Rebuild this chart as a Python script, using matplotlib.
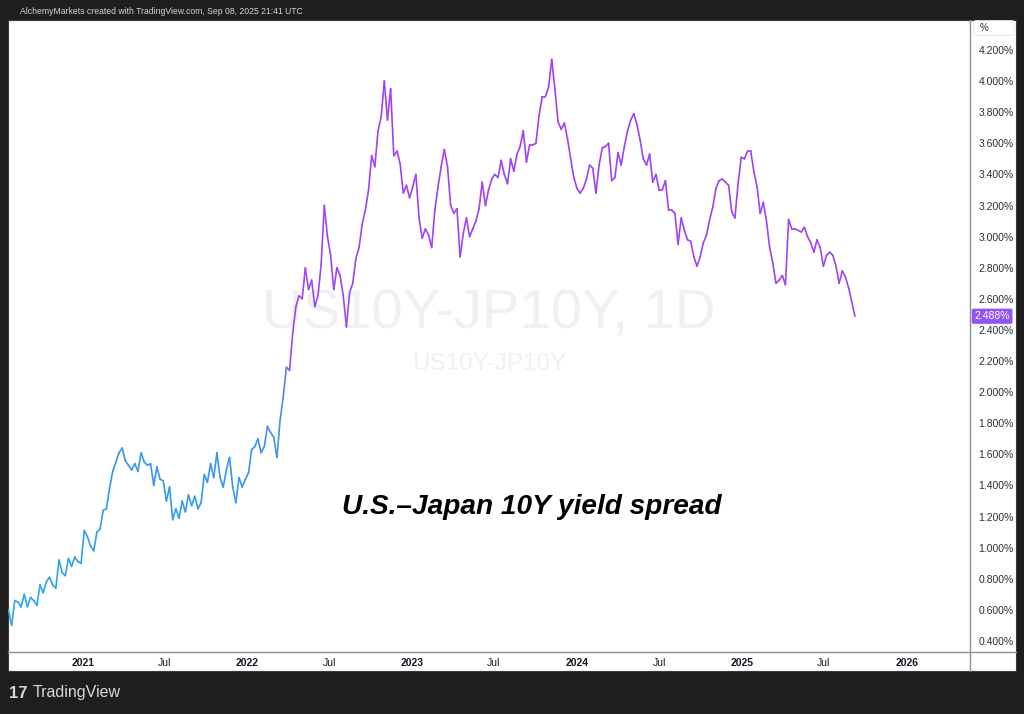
import numpy as np
import pandas as pd
import matplotlib
matplotlib.use("Agg")
import matplotlib.pyplot as plt
import matplotlib.dates as mdates
from matplotlib.collections import LineCollection
from matplotlib.colors import LinearSegmentedColormap, Normalize
from matplotlib.patches import Rectangle, FancyBboxPatch
from matplotlib.lines import Line2D
from matplotlib.transforms import blended_transform_factory

plt.rcParams['font.family'] = ['Liberation Sans', 'DejaVu Sans']

# weekly US10Y - JP10Y spread (%)
spread = [
    0.60, 0.50, 0.66, 0.65, 0.62, 0.70, 0.62, 0.68, 0.66, 0.63,
    0.76, 0.71, 0.78, 0.81, 0.76, 0.74, 0.92, 0.84, 0.82, 0.93,
    0.88, 0.94, 0.91, 0.90, 1.11, 1.07, 1.01, 0.98, 1.10, 1.12,
    1.24, 1.25, 1.38, 1.49, 1.55, 1.61, 1.64, 1.56, 1.53, 1.50,
    1.54, 1.49, 1.61, 1.55, 1.53, 1.54, 1.40, 1.52, 1.44, 1.43,
    1.30, 1.39, 1.18, 1.25, 1.19, 1.30, 1.23, 1.34, 1.27, 1.33,
    1.25, 1.29, 1.47, 1.42, 1.54, 1.45, 1.61, 1.45, 1.39, 1.50,
    1.58, 1.39, 1.29, 1.45, 1.39, 1.44, 1.48, 1.63, 1.65, 1.70,
    1.61, 1.65, 1.78, 1.74, 1.71, 1.58, 1.82, 1.97, 2.16, 2.14,
    2.38, 2.55, 2.62, 2.60, 2.80, 2.66, 2.72, 2.55, 2.62, 2.82,
    3.20, 3.00, 2.88, 2.66, 2.80, 2.75, 2.62, 2.42, 2.64, 2.70,
    2.86, 2.93, 3.08, 3.17, 3.30, 3.52, 3.45, 3.68, 3.77, 4.00,
    3.75, 3.95, 3.52, 3.55, 3.47, 3.28, 3.33, 3.25, 3.32, 3.40,
    3.12, 2.99, 3.05, 3.01, 2.93, 3.17, 3.32, 3.45, 3.56, 3.45,
    3.20, 3.15, 3.18, 2.87, 3.02, 3.12, 3.00, 3.05, 3.10, 3.18,
    3.35, 3.20, 3.30, 3.37, 3.40, 3.38, 3.49, 3.40, 3.34, 3.50,
    3.42, 3.53, 3.58, 3.68, 3.48, 3.59, 3.59, 3.60, 3.78, 3.90,
    3.90, 3.96, 4.14, 3.95, 3.74, 3.69, 3.73, 3.63, 3.50, 3.38,
    3.31, 3.28, 3.31, 3.37, 3.46, 3.44, 3.28, 3.46, 3.57, 3.58,
    3.60, 3.36, 3.38, 3.54, 3.46, 3.58, 3.68, 3.75, 3.79, 3.72,
    3.62, 3.50, 3.46, 3.53, 3.35, 3.40, 3.30, 3.30, 3.36, 3.17,
    3.17, 3.15, 2.95, 3.12, 3.04, 2.98, 2.97, 2.87, 2.81, 2.87,
    2.96, 3.01, 3.11, 3.19, 3.31, 3.36, 3.37, 3.35, 3.33, 3.16,
    3.12, 3.34, 3.51, 3.50, 3.55, 3.55, 3.42, 3.32, 3.15, 3.22,
    3.10, 2.93, 2.83, 2.70, 2.72, 2.75, 2.69, 3.11, 3.05, 3.05,
    3.04, 3.03, 3.06, 3.00, 2.96, 2.90, 2.98, 2.93, 2.81, 2.88,
    2.90, 2.88, 2.81, 2.70, 2.78, 2.74, 2.67, 2.58, 2.488,
]
dates = pd.date_range(end="2025-09-08", periods=len(spread), freq="7D")

yticks = [0.4, 0.6, 0.8, 1.0, 1.2, 1.4, 1.6, 1.8, 2.0, 2.2, 2.4, 2.6,
          2.8, 3.0, 3.2, 3.4, 3.6, 3.8, 4.0, 4.2]
xtick_dates = ["2021-01-01", "2021-07-01", "2022-01-01", "2022-07-01",
               "2023-01-01", "2023-07-01", "2024-01-01", "2024-07-01",
               "2025-01-01", "2025-07-01", "2026-01-01"]
xtick_labels = ["2021", "Jul", "2022", "Jul", "2023", "Jul", "2024", "Jul",
                "2025", "Jul", "2026"]

W, H = 1024, 714
fig = plt.figure(figsize=(W / 100, H / 100), dpi=100)
fig.patch.set_facecolor("#1e1e1e")

# white chart panel
fig.patches.append(Rectangle((8 / W, 43 / H), 1008 / W, 651 / H,
                             transform=fig.transFigure, facecolor="white",
                             edgecolor="#3a3a3a", lw=0.8, zorder=-5))

ax = fig.add_axes([8 / W, 62 / H, 962 / W, 632 / H])
ax.set_zorder(2)
ax.set_facecolor("none")
for s in ax.spines.values():
    s.set_visible(False)

# gradient line: blue at low levels, purple above ~2.3%
cmap = LinearSegmentedColormap.from_list(
    "tv", [(0.0, "#27aaf0"), (0.32, "#3b93ec"), (0.42, "#5688f0"),
           (0.50, "#9a48f5"), (1.0, "#a23ef6")])
x = mdates.date2num(dates)
y = np.array(spread)
pts = np.column_stack([x, y]).reshape(-1, 1, 2)
segs = np.concatenate([pts[:-1], pts[1:]], axis=1)
lc = LineCollection(segs, cmap=cmap, norm=Normalize(0.4, 4.2), linewidth=1.2,
                    capstyle="round", joinstyle="round", zorder=3)
lc.set_array((y[:-1] + y[1:]) / 2)
ax.add_collection(lc)

ax.set_xlim(pd.Timestamp("2020-07-19"), pd.Timestamp("2026-05-21"))
ax.set_ylim(0.329, 4.393)

ax.yaxis.tick_right()
ax.set_yticks(yticks)
ax.set_yticklabels([f"{v:.3f}%" for v in yticks])
ax.tick_params(axis="y", length=0, pad=6, labelsize=7.5, labelcolor="#2a2e39")

ax.set_xticks(pd.to_datetime(xtick_dates))
ax.set_xticklabels(xtick_labels)
ax.tick_params(axis="x", length=0, pad=4, labelsize=7.5, labelcolor="#131722")
for lbl in ax.get_xticklabels():
    if lbl.get_text() != "Jul":
        lbl.set_fontweight("bold")

# watermark and title
ax.text(0.50, 0.535, "US10Y-JP10Y, 1D", transform=ax.transAxes, fontsize=40.5,
        color="#f0f0f3", ha="center", va="center", zorder=1)
ax.text(0.50, 0.455, "US10Y-JP10Y", transform=ax.transAxes, fontsize=17.5,
        color="#f0f0f3", ha="center", va="center", zorder=1)
ax.text(0.545, 0.230, "U.S.\u2013Japan 10Y yield spread", transform=ax.transAxes,
        fontsize=20.2, fontweight="bold", fontstyle="italic", color="black",
        ha="center", va="center", zorder=4)

# last price tag
tr = blended_transform_factory(ax.transAxes, ax.transData)
ax.text(1.0045, spread[-1], f"{spread[-1]:.3f}%", transform=tr, fontsize=7.5,
        color="white", ha="left", va="center",
        bbox=dict(boxstyle="round,pad=0.25,rounding_size=0.15",
                  fc="#9155f3", ec="none"))

# scale separators
fig.add_artist(Line2D([8 / W, 1016 / W], [62 / H, 62 / H], color="#8c8f98", lw=1))
fig.add_artist(Line2D([970 / W, 970 / W], [43 / H, 694 / H], color="#8c8f98", lw=1))

# % unit box
fig.patches.append(FancyBboxPatch((976 / W, 680 / H), 36 / W, 12 / H,
                                  boxstyle="round,pad=0.002", transform=fig.transFigure,
                                  fc="white", ec="#e6e6e9", lw=0.6))
fig.text(984 / W, 686 / H, "%", fontsize=7, color="#2a2e39", ha="center", va="center")

# header and footer
fig.text(20 / W, 703 / H, "AlchemyMarkets created with TradingView.com, Sep 08, 2025 21:41 UTC",
         fontsize=6.2, color="#d1d4dc", ha="left", va="center")
fig.text(33 / W, 21 / H, "TradingView", fontsize=11.5, color="#d8d8d8",
         ha="left", va="center")
fig.text(9 / W, 21 / H, "17", fontsize=12, color="#d8d8d8",
         ha="left", va="center", fontweight="bold")

fig.savefig("out.png", dpi=100, facecolor=fig.get_facecolor())
